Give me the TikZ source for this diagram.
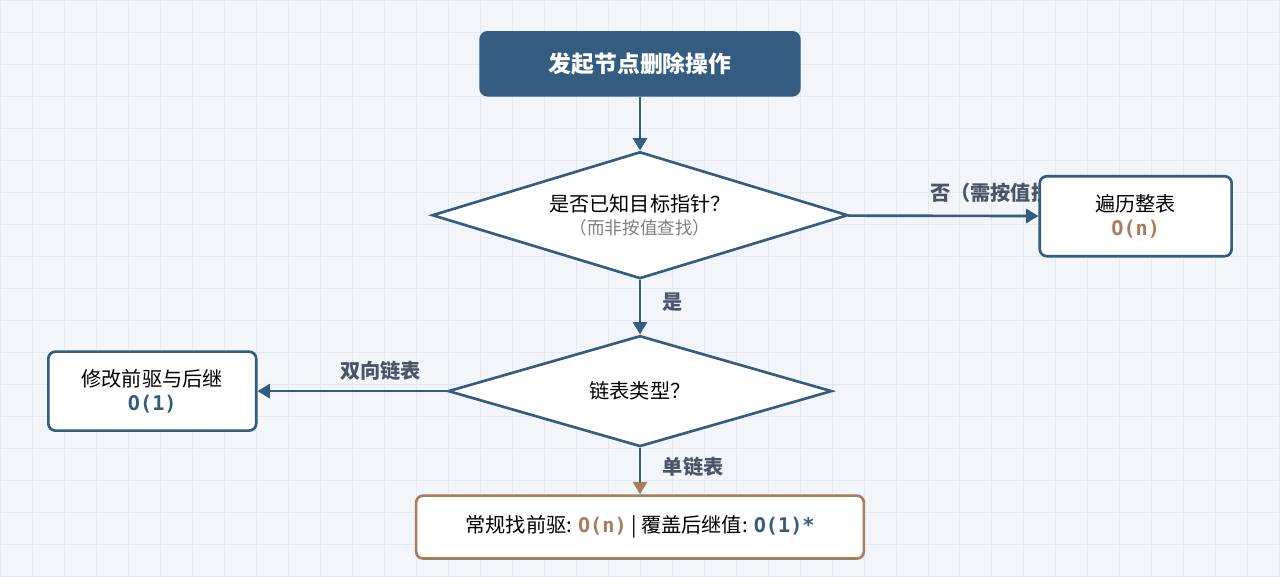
\documentclass[tikz,border=0pt]{standalone}
\usepackage{fontspec}
\setmainfont{Noto Sans CJK SC}
\newfontfamily\monofont{DejaVu Sans Mono}
\usetikzlibrary{shapes.geometric,arrows.meta}
\definecolor{navy}{HTML}{335C80}
\definecolor{bronze}{HTML}{A97C5A}
\definecolor{gridc}{HTML}{E2E8F0}
\definecolor{bgc}{HTML}{F2F5FA}
\definecolor{labc}{HTML}{4A5568}
\tikzset{
  box/.style={draw=navy, line width=1.5pt, fill=white, rounded corners=4pt, align=center, inner sep=0pt},
  dec/.style={draw=navy, line width=1.5pt, fill=white, diamond, align=center, inner sep=0pt},
  flow/.style={draw=navy, line width=1.5pt, -{Triangle[length=7pt,width=8pt]}},
  lab/.style={text=labc, font=\bfseries\fontsize{11.5}{14}\selectfont},
  every node/.append style={font=\fontsize{11.5}{14}\selectfont}
}
\newcommand{\cplx}[2]{{\monofont\bfseries\color{#1}#2}}
\begin{document}
\begin{tikzpicture}[x=0.02cm, y=-0.02cm]
  % background and grid
  \fill[bgc] (0,0) rectangle (1280,576);
  \foreach \i in {0,32,...,1280} \draw[gridc, line width=0.4pt] (\i,0) -- (\i,576);
  \foreach \j in {0,32,...,576} \draw[gridc, line width=0.4pt] (0,\j) -- (1280,\j);
  \useasboundingbox (0,0) rectangle (1280,576);

  \node[box, fill=navy, text=white, minimum width=6.38cm, minimum height=1.26cm,
        font=\bfseries\fontsize{13}{15}\selectfont] at (640,63.5) (start) {发起节点删除操作};
  \node[dec, aspect=3.28, minimum width=8.32cm, minimum height=2.54cm] at (640,215) (known)
       {是否已知目标指针？\\[-1pt]{\color{gray}\fontsize{10}{12}\selectfont（而非按值查找）}};
  \node[lab, anchor=west] at (924,193) (nolab) {否（需按值搜索）};
  \node[box, minimum width=3.84cm, minimum height=1.6cm] at (1136,216) (scan)
       {遍历整表\\\cplx{bronze}{O(n)}};
  \node[dec, aspect=3.46, minimum width=7.68cm, minimum height=2.22cm] at (640,391) (kind) {链表类型？};
  \node[box, minimum width=4.16cm, minimum height=1.58cm] at (152,391) (dbl)
       {修改前驱与后继\\\cplx{navy}{O(1)}};
  \node[box, draw=bronze, minimum width=8.96cm, minimum height=1.26cm] at (640,527) (sgl)
       {常规找前驱: \cplx{bronze}{O(n)} | 覆盖后继值: \cplx{navy}{O(1)*}};

  \draw[flow] (start) -- (known);
  \draw[flow] (known) -- (scan);
  \draw[flow] (known) -- node[lab, right=9pt, pos=0.4] {是} (kind);
  \draw[flow] (kind) -- node[lab, above=2pt, pos=0.35] {双向链表} (dbl);
  \draw[flow, -{Triangle[length=7pt,width=8pt,fill=bronze,color=bronze]}] (kind) -- node[lab, right=9pt, pos=0.4] {单链表} (sgl);
\end{tikzpicture}
\end{document}
